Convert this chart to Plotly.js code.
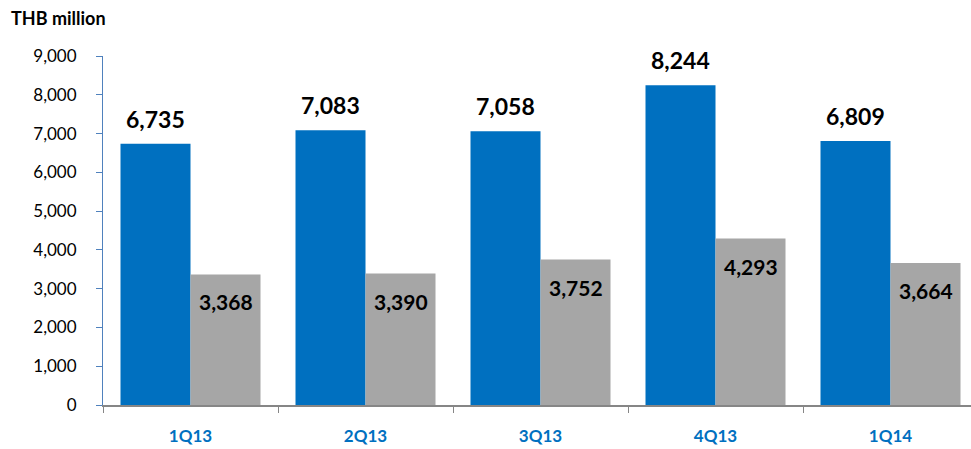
<!DOCTYPE html>
<html><head><meta charset="utf-8">
<script src="https://cdn.plot.ly/plotly-3.0.1.min.js"></script>
<style>html,body{margin:0;padding:0;background:#fff;overflow:hidden}</style>
</head><body>
<div id="chart" style="width:971px;height:449px"></div>
<script>
var categories = ["1Q13","2Q13","3Q13","4Q13","1Q14"];
var seriesA = [6735, 7083, 7058, 8244, 6809];
var seriesB = [3368, 3390, 3752, 4293, 3664];
var yTicks = [0,1000,2000,3000,4000,5000,6000,7000,8000,9000];

var fmt = function(v){ return v.toLocaleString('en-US'); };
var FONT = "Lato, 'Open Sans', sans-serif";

var traces = [
  {type:'bar', x:categories, y:seriesA, marker:{color:'#0070c0'}, hoverinfo:'none', name:'A'},
  {type:'bar', x:categories, y:seriesB, marker:{color:'#a6a6a6'}, hoverinfo:'none', name:'B'}
];

var annotations = [];
categories.forEach(function(c,i){
  annotations.push({x:c, y:seriesA[i], xref:'x', yref:'y', xshift:-35, yanchor:'bottom', yshift:9,
    text:'<b>'+fmt(seriesA[i])+'</b>', showarrow:false, font:{family:FONT, size:23, color:'#000'}});
  annotations.push({x:c, y:seriesB[i], xref:'x', yref:'y', xshift:35, yanchor:'top', yshift:-13,
    text:'<b>'+fmt(seriesB[i])+'</b>', showarrow:false, font:{family:FONT, size:21, color:'#000'}});
});
annotations.push({xref:'paper', yref:'paper', x:-103/868, y:1+(56-18)/349, xanchor:'left', yanchor:'middle',
  text:'<b>THB million</b>', showarrow:false, font:{family:FONT, size:18, color:'#000'}, xshift:9});

var layout = {
  width:971, height:449,
  margin:{l:103, r:0, t:56, b:44},
  paper_bgcolor:'#fff', plot_bgcolor:'#fff',
  showlegend:false,
  barmode:'group', bargap:0.2, bargroupgap:0,
  font:{family:FONT, color:'#000'},
  xaxis:{range:[-0.5, 4.46], showgrid:false, showline:true, linecolor:'#868686', linewidth:2,
    ticks:'outside', tickson:'boundaries', ticklen:6, tickcolor:'#868686', tickwidth:1,
    tickfont:{family:FONT, size:17, color:'#0070c0', weight:'bold'}, ticklabelstandoff:15},
  yaxis:{range:[0,9000], tickvals:yTicks, ticktext:yTicks.map(fmt), showgrid:false, zeroline:false,
    showline:true, linecolor:'#4f81bd', linewidth:1, ticks:'outside', ticklen:6, tickcolor:'#4f81bd',
    tickfont:{family:FONT, size:17, color:'#000'}, ticklabelstandoff:16},
  annotations:annotations
};
Plotly.newPlot('chart', traces, layout, {displayModeBar:false, staticPlot:true});
</script>
</body></html>
